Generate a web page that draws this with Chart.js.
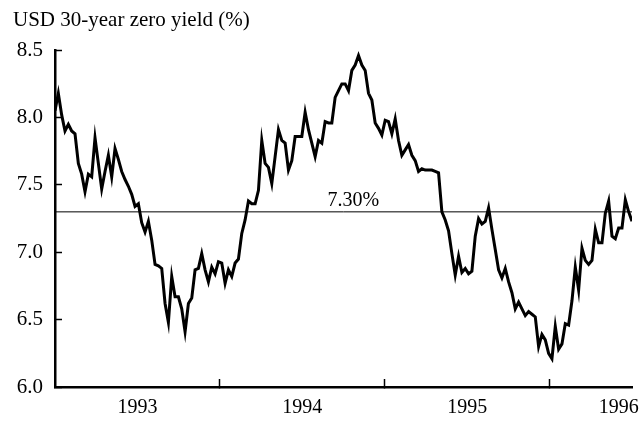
<!DOCTYPE html>
<html>
<head>
<meta charset="utf-8">
<script src="https://cdn.jsdelivr.net/npm/chart.js@4.4.1/dist/chart.umd.min.js"></script>
<style>
  body { margin: 0; background: #fff; }
</style>
</head>
<body>
<canvas id="chart" width="643" height="421"></canvas>
<script>
// weekly-ish readings, start of 1993 to mid 1996
const yields1993 = [8.05, 8.18, 8.02, 7.90, 7.95, 7.90, 7.88, 7.66, 7.58, 7.45, 7.58, 7.56, 7.85, 7.66, 7.47,
    7.60, 7.72, 7.56, 7.77, 7.69, 7.60, 7.54, 7.49, 7.43, 7.34, 7.36, 7.22, 7.15, 7.23, 7.09,
    6.91, 6.90, 6.88, 6.62, 6.48, 6.82, 6.67, 6.67, 6.58, 6.41, 6.62, 6.66, 6.87, 6.88, 6.99,
    6.87, 6.78, 6.89, 6.84, 6.93, 6.92, 6.77, 6.87, 6.82, 6.92, 6.95, 7.14, 7.24, 7.38];
const yields1994 = [7.36, 7.36, 7.46, 7.83, 7.66, 7.63, 7.51, 7.71, 7.91, 7.83, 7.81, 7.61, 7.68, 7.86,
    7.86, 7.86, 8.04, 7.91, 7.81, 7.71, 7.83, 7.81, 7.97, 7.96, 7.96, 8.15, 8.20, 8.25,
    8.25, 8.20, 8.35, 8.39, 8.46, 8.39, 8.35, 8.18, 8.13, 7.96, 7.92, 7.87, 7.98, 7.97, 7.88,
    7.99, 7.83, 7.72, 7.76, 7.80, 7.72, 7.68, 7.60, 7.62, 7.61, 7.61, 7.61, 7.60, 7.59];
const yields1995 = [7.30, 7.24, 7.16, 6.99, 6.83, 6.97, 6.85, 6.88, 6.84, 6.86, 7.12, 7.25, 7.21, 7.23,
    7.33, 7.17, 7.02, 6.87, 6.81, 6.88, 6.78, 6.70, 6.58, 6.63, 6.58, 6.53, 6.56, 6.54,
    6.52, 6.30, 6.39, 6.35, 6.25, 6.21, 6.45, 6.28, 6.32, 6.47, 6.46, 6.64, 6.89, 6.72, 7.03,
    6.94, 6.91, 6.94, 7.17, 7.07, 7.07, 7.29, 7.38, 7.12, 7.10, 7.18, 7.18, 7.39, 7.30, 7.23];

const startYear = 1993.0;
const endYear = 1996.5;
const meanYield = 7.30;
const meanLabel = '7.30%';
const meanLabelAt = 1994.81;

const yearLabels = ['1993', '1994', '1995', '1996'];
const yearLabelAt = [1993.5, 1994.5, 1995.5, 1996.42];
const yearBounds = [1994, 1995, 1996];

const FONT = "'Liberation Serif', 'Times New Roman', serif";

const yields = yields1993.concat(yields1994, yields1995);
const step = (endYear - startYear) / (yields.length - 1);
const points = yields.map((y, i) => ({ x: startYear + i * step, y: y }));

const meanLabelPlugin = {
    id: 'meanLabel',
    afterDatasetsDraw(chart) {
        const ctx = chart.ctx;
        const x = chart.scales.x.getPixelForValue(meanLabelAt);
        const y = chart.scales.y.getPixelForValue(meanYield);
        ctx.save();
        ctx.font = '20px ' + FONT;
        ctx.fillStyle = '#000';
        ctx.textAlign = 'center';
        ctx.textBaseline = 'bottom';
        ctx.fillText(meanLabel, x, y - 1);
        ctx.restore();
    }
};

const ctx = document.getElementById('chart').getContext('2d');
new Chart(ctx, {
    type: 'line',
    data: {
        datasets: [{
            data: points,
            borderColor: '#000',
            borderWidth: 3,
            pointRadius: 0,
            tension: 0
        }, {
            data: [{ x: startYear, y: meanYield }, { x: endYear, y: meanYield }],
            borderColor: '#000',
            borderWidth: 1,
            pointRadius: 0
        }]
    },
    options: {
        responsive: false,
        animation: false,
        events: [],
        layout: { padding: { left: 13, right: 11, top: 0, bottom: 0 } },
        plugins: {
            legend: { display: false },
            tooltip: { enabled: false },
            title: {
                display: true,
                text: 'USD 30-year zero yield (%)',
                align: 'start',
                color: '#000',
                font: { family: FONT, size: 21, weight: 'normal' },
                padding: { top: 8, bottom: 17 }
            }
        },
        scales: {
            x: {
                type: 'linear',
                min: startYear,
                max: endYear,
                afterBuildTicks: (scale) => {
                    scale.ticks = yearBounds.concat(yearLabelAt).sort((a, b) => a - b).map(v => ({ value: v }));
                },
                afterFit: (scale) => {
                    scale.height = 34;
                    scale.paddingRight = 0;
                },
                ticks: {
                    autoSkip: false,
                    maxRotation: 0,
                    minRotation: 0,
                    padding: 17,
                    color: '#000',
                    font: { family: FONT, size: 20 },
                    callback: (v) => {
                        const i = yearLabelAt.indexOf(v);
                        return i >= 0 ? yearLabels[i] : '';
                    }
                },
                grid: {
                    drawOnChartArea: false,
                    tickLength: -8,
                    tickWidth: 1.5,
                    tickColor: (c) => (c.tick && yearBounds.includes(c.tick.value)) ? '#000' : 'rgba(0,0,0,0)'
                },
                border: { display: true, color: '#000', width: 2.5 }
            },
            y: {
                min: 6.0,
                max: 8.5,
                afterFit: (scale) => { scale.width = 42; },
                ticks: {
                    stepSize: 0.5,
                    padding: 19,
                    color: '#000',
                    font: { family: FONT, size: 21 },
                    callback: (v) => v.toFixed(1)
                },
                grid: {
                    drawOnChartArea: false,
                    tickLength: -7,
                    tickWidth: 1.5,
                    tickColor: '#000'
                },
                border: { display: true, color: '#000', width: 2.5 }
            }
        }
    },
    plugins: [meanLabelPlugin]
});
</script>
</body>
</html>
